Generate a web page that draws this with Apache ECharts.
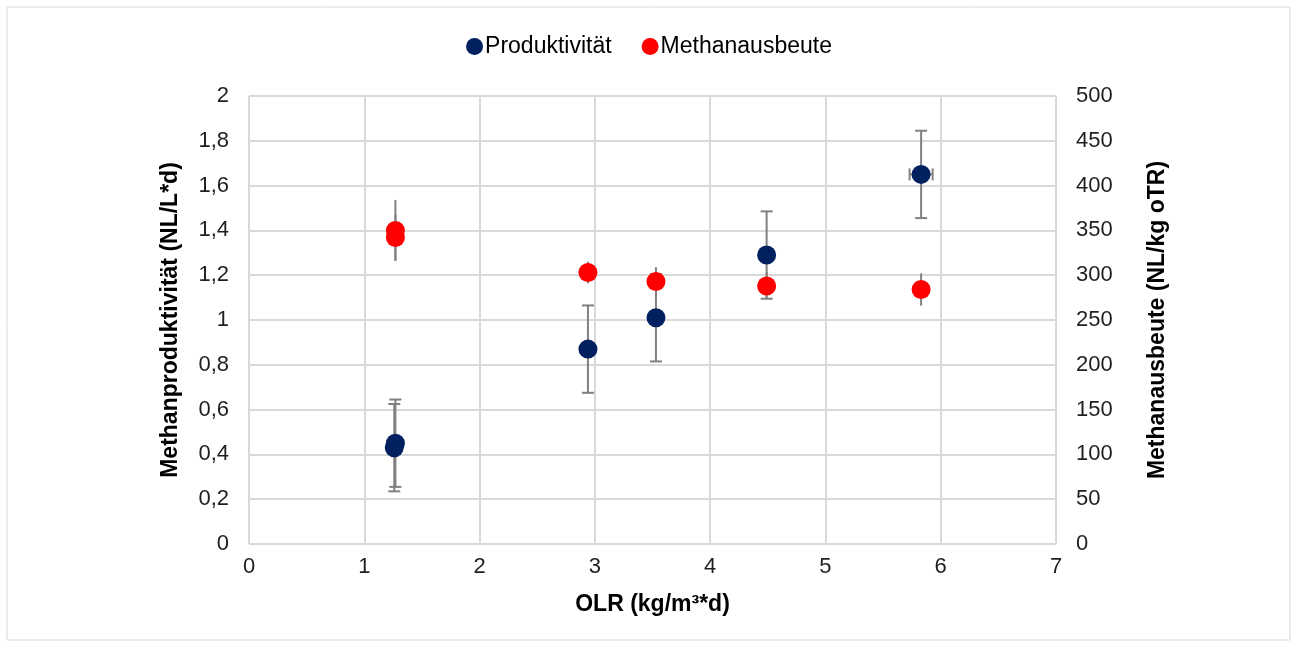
<!DOCTYPE html>
<html>
<head lang="de">
    <meta charset="UTF-8">
    <title>Methanproduktivität</title>
    <script type="text/javascript" src="https://cdn.jsdelivr.net/npm/echarts@6/dist/echarts.min.js"></script>
</head>
<body style="margin:0;background:#fff;">
<div id="main" style="width:1298px;height:648px;"></div>
</body>
</html>
<script type="text/javascript">
    // Werte
    var olr = [1.26, 1.27, 2.94, 3.53, 4.49, 5.83];
    var produktivitaet = [0.43, 0.45, 0.87, 1.01, 1.29, 1.65];      // NL/L*d
    var produktivitaetFehler = [0.195, 0.195, 0.195, 0.195, 0.195, 0.195];
    var olrFehler = [0, 0, 0, 0, 0, 0.1];
    var olrRot = [1.27, 1.27, 2.94, 3.53, 4.49, 5.83];
    var ausbeute = [342, 350, 303, 293, 288, 284];                 // NL/kg oTR
    var ausbeuteFehler = [26, 34, 12, 16, 15, 18];

    var blau = '#002060', rot = '#ff0000', grau = '#808080';
    var font = 'Liberation Sans, Arial, sans-serif';

    function paare(xs, ys) {
        return xs.map(function (x, i) { return [x, ys[i]]; });
    }

    function fehlerDaten(xs, ys, yerr, xerr) {
        return xs.map(function (x, i) { return [x, ys[i], yerr[i], xerr ? xerr[i] : 0]; });
    }

    // Fehlerbalken als custom series
    function fehlerBalken(caps) {
        return function (params, api) {
            var x = api.value(0), y = api.value(1), e = api.value(2), ex = api.value(3);
            var oben = api.coord([x, y + e]);
            var unten = api.coord([x, y - e]);
            var style = { stroke: grau, lineWidth: 2 };
            var kids = [{ type: 'line', shape: { x1: oben[0], y1: oben[1], x2: unten[0], y2: unten[1] }, style: style }];
            if (caps) {
                kids.push({ type: 'line', shape: { x1: oben[0] - 6, y1: oben[1], x2: oben[0] + 6, y2: oben[1] }, style: style });
                kids.push({ type: 'line', shape: { x1: unten[0] - 6, y1: unten[1], x2: unten[0] + 6, y2: unten[1] }, style: style });
            }
            if (ex > 0) {
                var l = api.coord([x - ex, y]), r = api.coord([x + ex, y]);
                kids.push({ type: 'line', shape: { x1: l[0], y1: l[1], x2: r[0], y2: r[1] }, style: style });
                kids.push({ type: 'line', shape: { x1: l[0], y1: l[1] - 6, x2: l[0], y2: l[1] + 6 }, style: style });
                kids.push({ type: 'line', shape: { x1: r[0], y1: r[1] - 6, x2: r[0], y2: r[1] + 6 }, style: style });
            }
            return { type: 'group', children: kids };
        };
    }

    var myChart = echarts.init(document.getElementById('main'));
    var option = {
        backgroundColor: '#fff',
        animation: false,
        graphic: [{
            type: 'rect', shape: { x: 7, y: 7, width: 1283, height: 633 },
            style: { fill: 'none', stroke: '#d9d9d9', lineWidth: 1 }, silent: true
        }],
        legend: {
            data: ['Produktivität', 'Methanausbeute'],
            top: 30,
            left: 'center',
            icon: 'circle',
            itemWidth: 17,
            itemHeight: 17,
            itemGap: 30,
            textStyle: { fontFamily: font, fontSize: 23, color: '#000', padding: [0, 0, 0, -3] }
        },
        grid: { left: 249, right: 242, top: 96, bottom: 104 },
        xAxis: {
            type: 'value', min: 0, max: 7, interval: 1,
            name: 'OLR (kg/m³*d)', nameLocation: 'middle', nameGap: 49,
            nameTextStyle: { fontFamily: font, fontSize: 23, fontWeight: 'bold', color: '#000' },
            axisLine: { show: false },
            axisTick: { show: false },
            axisLabel: { fontFamily: font, fontSize: 22, color: '#1f1f1f', margin: 12 },
            splitLine: { lineStyle: { color: '#d9d9d9', width: 2 } }
        },
        yAxis: [{
            type: 'value', min: 0, max: 2, interval: 0.2,
            name: 'Methanproduktivität (NL/L*d)', nameLocation: 'middle', nameGap: 67,
            nameTextStyle: { fontFamily: font, fontSize: 23, fontWeight: 'bold', color: '#000' },
            axisLine: { show: false },
            axisTick: { show: false },
            axisLabel: {
                fontFamily: font, fontSize: 22, color: '#1f1f1f', margin: 20,
                formatter: function (v) { return String(Math.round(v * 10) / 10).replace('.', ','); }
            },
            splitLine: { lineStyle: { color: '#d9d9d9', width: 2 } }
        }, {
            type: 'value', min: 0, max: 500, interval: 50, position: 'right',
            name: 'Methanausbeute (NL/kg oTR)', nameLocation: 'middle', nameGap: 90,
            nameTextStyle: { fontFamily: font, fontSize: 23, fontWeight: 'bold', color: '#000' },
            axisLine: { show: false },
            axisTick: { show: false },
            axisLabel: { fontFamily: font, fontSize: 22, color: '#1f1f1f', margin: 20 },
            splitLine: { show: false }
        }],
        series: [{
            type: 'custom', yAxisIndex: 0, silent: true, z: 2,
            renderItem: fehlerBalken(true),
            encode: { x: 0, y: 1 },
            data: fehlerDaten(olr, produktivitaet, produktivitaetFehler, olrFehler)
        }, {
            type: 'custom', yAxisIndex: 1, silent: true, z: 2,
            renderItem: fehlerBalken(false),
            encode: { x: 0, y: 1 },
            data: fehlerDaten(olrRot, ausbeute, ausbeuteFehler)
        }, {
            name: 'Produktivität', type: 'scatter', yAxisIndex: 0, z: 3,
            symbolSize: 19,
            itemStyle: { color: blau, opacity: 1 },
            data: paare(olr, produktivitaet)
        }, {
            name: 'Methanausbeute', type: 'scatter', yAxisIndex: 1, z: 4,
            symbolSize: 19,
            itemStyle: { color: rot, opacity: 1 },
            data: paare(olrRot, ausbeute)
        }]
    };
    myChart.setOption(option);
</script>
